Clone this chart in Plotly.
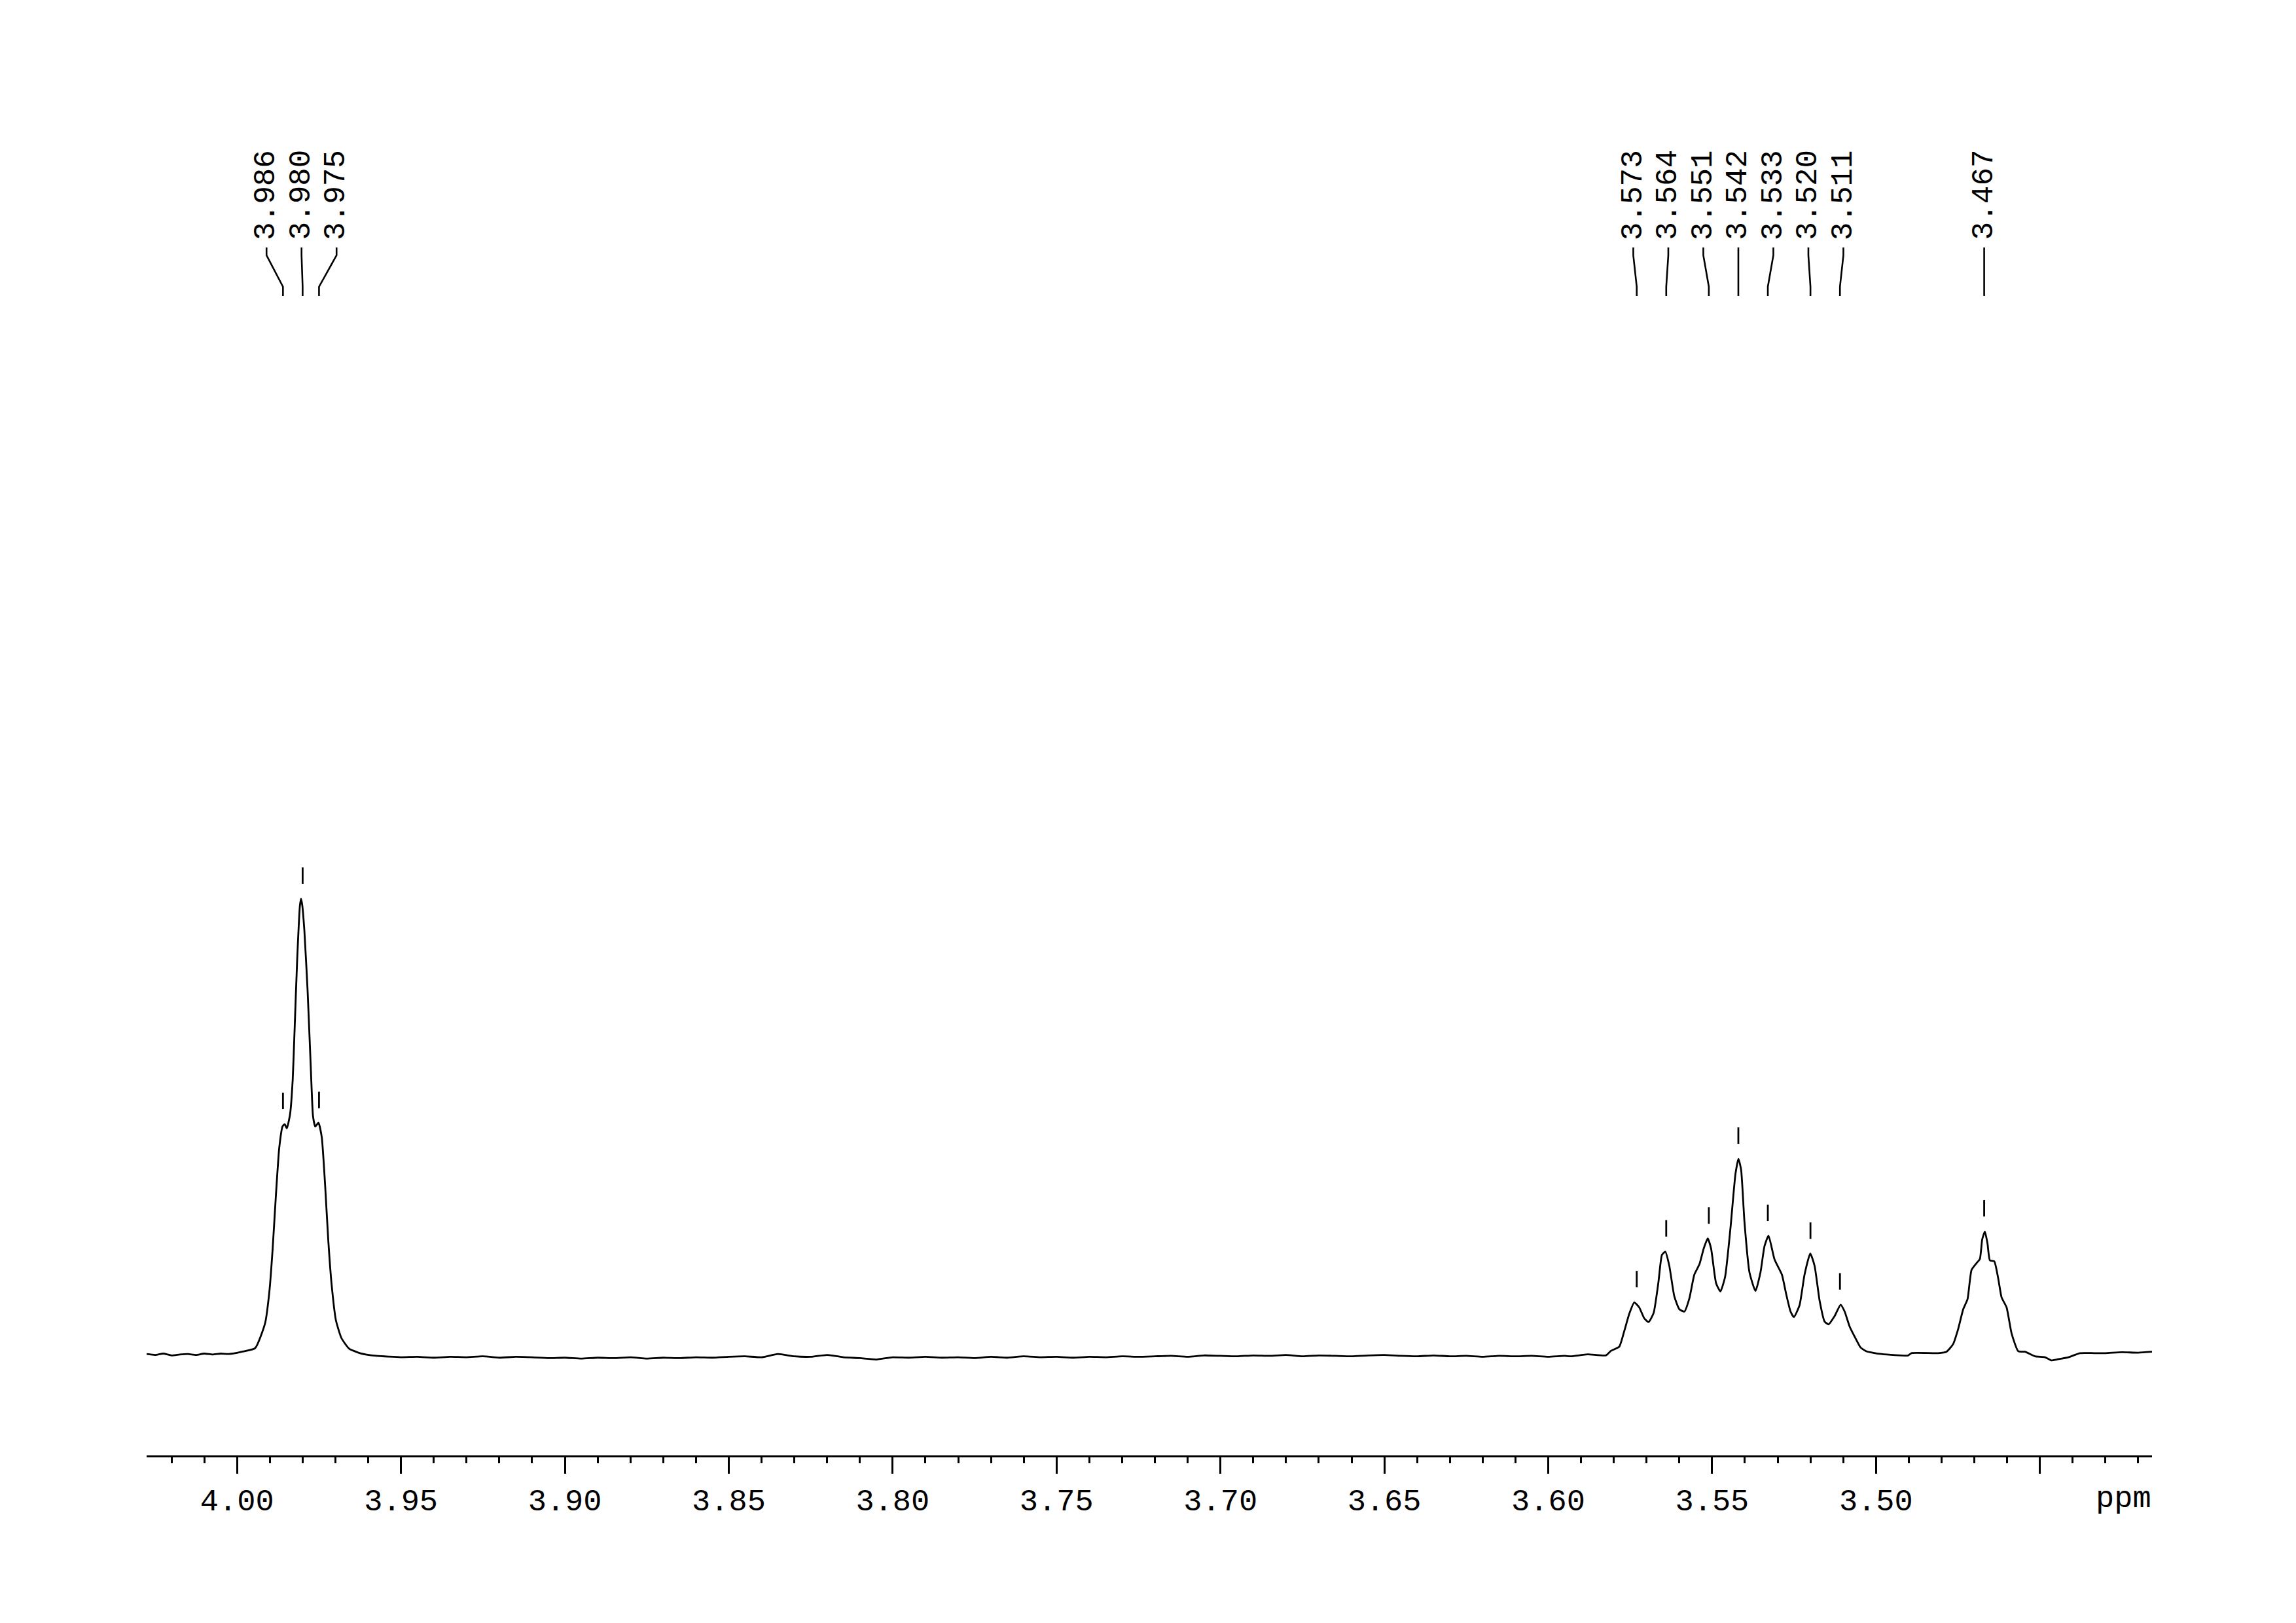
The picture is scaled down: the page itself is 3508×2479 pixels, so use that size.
import plotly.graph_objects as go

# ---------------- data ----------------
# spectrum trace: chemical shift (ppm) and relative intensity
left_ppm = [4.0276, 4.0250, 4.0225, 4.0200, 4.0175, 4.0150, 4.0125, 4.0100, 4.0075, 4.0050,
            4.0025, 3.9985, 3.99447, 3.99147, 3.99014, 3.98914, 3.98814, 3.98714, 3.98614,
            3.98548, 3.98482, 3.98383, 3.98303, 3.98249, 3.98169, 3.98083, 3.9805, 3.98015,
            3.97949, 3.97849, 3.97749, 3.97684, 3.97616, 3.97516, 3.97416, 3.97316, 3.97216,
            3.97117, 3.96985, 3.96817, 3.96585, 3.96252, 3.9575]
left_int = [0.4, 0.2, 0.5, 0.1, 0.3, 0.4, 0.2, 0.5, 0.3, 0.5,
            0.4, 0.9, 1.7, 7.1, 14.1, 23.5, 35.3, 45.5, 50.2,
            50.7, 49.8, 52.9, 60.4, 70.6, 86.3, 98.5, 100.0, 98.8,
            93.3, 80.0, 62.7, 52.5, 50.2, 51.0, 47.8, 37.6, 25.1,
            15.7, 7.8, 3.9, 1.6, 0.6, 0.0]

mid_ppm = [3.9500, 3.9450, 3.9400, 3.9350, 3.9300, 3.9250, 3.9200, 3.9150, 3.9100, 3.9050,
           3.9000, 3.8950, 3.8900, 3.8850, 3.8800, 3.8750, 3.8700, 3.8650, 3.8600, 3.8550,
           3.8500, 3.8450, 3.8400, 3.8350, 3.8300, 3.8250, 3.8200, 3.8150, 3.8100, 3.8050,
           3.8000, 3.7950, 3.7900, 3.7850, 3.7800, 3.7750, 3.7700, 3.7650, 3.7600, 3.7550,
           3.7500, 3.7450, 3.7400, 3.7350, 3.7300, 3.7250, 3.7200, 3.7150, 3.7100, 3.7050,
           3.7000, 3.6950, 3.6900, 3.6850, 3.6800, 3.6750, 3.6700, 3.6650, 3.6600, 3.6550,
           3.6500, 3.6450, 3.6400, 3.6350, 3.6300, 3.6250, 3.6200, 3.6150, 3.6100, 3.6050,
           3.6000, 3.5950]
mid_int = [-0.3, -0.2, -0.4, -0.2, -0.3, -0.1, -0.4, -0.2, -0.3, -0.5,
           -0.4, -0.6, -0.4, -0.5, -0.3, -0.6, -0.4, -0.5, -0.3, -0.4,
           -0.2, -0.1, -0.3, 0.4, -0.1, -0.2, 0.2, -0.3, -0.5, -0.8,
           -0.3, -0.4, -0.2, -0.4, -0.3, -0.5, -0.2, -0.4, -0.1, -0.3,
           -0.2, -0.4, -0.2, -0.3, -0.1, -0.2, -0.1, 0.0, -0.2, 0.1,
           0.0, -0.1, 0.1, 0.0, 0.2, -0.1, 0.1, 0.0, -0.1, 0.1,
           0.2, 0.0, -0.1, 0.1, -0.1, 0.0, -0.2, 0.0, -0.1, 0.0,
           -0.2, 0.0]

right_ppm = [3.59311, 3.58802, 3.58241, 3.58088, 3.57834, 3.57681, 3.57528, 3.57375, 3.57223,
             3.57070, 3.56937, 3.56784, 3.56642, 3.56530, 3.56428, 3.56306, 3.56153, 3.56000,
             3.55847, 3.55694, 3.55542, 3.55389, 3.55256, 3.55134, 3.55032, 3.54879, 3.54747,
             3.54604, 3.54441, 3.54288, 3.54197, 3.54115, 3.54013, 3.53861, 3.53677, 3.53524,
             3.53402, 3.53280, 3.53096, 3.52872, 3.52740, 3.52607, 3.52505, 3.52332, 3.52180,
             3.52006, 3.51874, 3.51721, 3.51568, 3.51446, 3.51263, 3.51079, 3.50957, 3.50804,
             3.50600, 3.50468, 3.50295, 3.49836, 3.49021, 3.48919, 3.48104, 3.47850, 3.47646,
             3.47493, 3.47340, 3.47208, 3.47086, 3.46933, 3.46831, 3.46760, 3.46678, 3.46597,
             3.46526, 3.46393, 3.46271, 3.46169, 3.46016, 3.45863, 3.45660, 3.45456, 3.45150,
             3.44845, 3.44641, 3.44488, 3.44131, 3.43775, 3.43337, 3.4300, 3.4250, 3.4200, 3.4158]
right_int = [-0.1, 0.35, 0.1, 1.1, 2.0, 5.4, 9.2, 11.7, 10.6,
             8.2, 7.4, 9.4, 15.9, 22.1, 22.8, 19.7, 13.0, 10.2,
             9.7, 12.6, 17.8, 20.0, 23.5, 25.7, 23.5, 15.9, 14.1,
             17.3, 27.9, 39.8, 43.1, 40.7, 29.3, 18.3, 14.2, 18.3,
             24.0, 26.3, 21.1, 17.8, 13.5, 9.7, 8.5, 11.1, 17.8,
             22.4, 19.7, 12.1, 7.5, 6.9, 8.7, 11.2, 9.7, 6.4,
             3.5, 1.8, 1.0, 0.4, 0.1, 0.6, 0.6, 0.9, 2.6,
             5.9, 10.2, 12.4, 18.8, 20.3, 21.2, 25.5, 27.2, 24.5,
             20.9, 20.7, 16.9, 12.8, 10.6, 4.9, 1.0, 0.9, -0.1,
             -0.3, -1.0, -0.8, -0.3, 0.6, 0.6, 0.6, 0.8, 0.7, 0.9]

# picked peaks
peak_ppm = [3.986, 3.980, 3.975, 3.573, 3.564, 3.551, 3.542, 3.533, 3.520, 3.511, 3.467]
peak_height = [50.7, 100.0, 50.9, 11.7, 22.8, 25.6, 43.1, 26.2, 22.3, 11.2, 27.2]

# axis ticks
major_ticks = [4.00, 3.95, 3.90, 3.85, 3.80, 3.75, 3.70, 3.65, 3.60, 3.55, 3.50, 3.45]
major_labels = ["4.00", "3.95", "3.90", "3.85", "3.80", "3.75", "3.70", "3.65", "3.60",
                "3.55", "3.50", ""]

# ---------------- layout constants ----------------
X_RANGE = [4.0276, 3.4158]
Y_RANGE = [-21.78, 282.37]
FONT = "Liberation Mono"
PX_PER_PPM = 5008.0
LABEL_SPACING = 53.5 / PX_PER_PPM  # minimum distance between peak labels (ppm)

spec_ppm = left_ppm + mid_ppm + right_ppm
spec_int = left_int + mid_int + right_int

# spread peak labels so they don't overlap
clusters = [[i] for i in range(len(peak_ppm))]


def cluster_positions(c):
    centre = sum(peak_ppm[i] for i in c) / len(c)
    n = len(c)
    return [centre + ((n - 1) / 2 - k) * LABEL_SPACING for k in range(n)]


changed = True
while changed:
    changed = False
    for j in range(len(clusters) - 1):
        a = cluster_positions(clusters[j])
        b = cluster_positions(clusters[j + 1])
        if a[-1] - b[0] < LABEL_SPACING - 1e-9:
            clusters[j] = clusters[j] + clusters[j + 1]
            del clusters[j + 1]
            changed = True
            break

label_x = []
for c in clusters:
    label_x += cluster_positions(c)

fig = go.Figure()
fig.add_trace(go.Scatter(x=spec_ppm, y=spec_int, mode="lines",
                         line=dict(color="black", width=2.8, shape="spline", smoothing=0.5),
                         hoverinfo="skip", showlegend=False))

shapes = []
annotations = []
# label geometry (data y units)
Y_TEXT = 244.0
Y_C0, Y_C1, Y_C2, Y_C3 = 242.55, 240.83, 233.95, 231.95
for p, h, lx in zip(peak_ppm, peak_height, label_x):
    shapes.append(dict(type="line", xref="x", yref="y", x0=p, x1=p, y0=h + 3.3, y1=h + 6.9,
                       line=dict(color="black", width=2.8)))
    shapes.append(dict(type="path", xref="x", yref="y",
                       path=f"M {lx},{Y_C0} L {lx},{Y_C1} L {p},{Y_C2} L {p},{Y_C3}",
                       line=dict(color="black", width=2.6)))
    annotations.append(dict(x=lx, y=Y_TEXT, xref="x", yref="y", text=f"{p:.3f}",
                            textangle=-90, showarrow=False, xanchor="center", yanchor="bottom",
                            font=dict(family=FONT, size=46, color="black"), borderpad=0))

annotations.append(dict(x=1, y=-0.0185, xref="paper", yref="paper", text="ppm", showarrow=False,
                        xanchor="right", yanchor="top",
                        font=dict(family=FONT, size=47, color="black"), borderpad=0))

fig.update_layout(
    width=3492, height=2463,
    margin=dict(l=216, r=212, t=92, b=248, pad=0),
    paper_bgcolor="white", plot_bgcolor="white",
    shapes=shapes, annotations=annotations,
    xaxis=dict(range=X_RANGE, autorange=False, showgrid=False, zeroline=False,
               showline=True, linecolor="black", linewidth=3,
               ticks="outside", ticklen=25, tickwidth=3, tickcolor="black",
               tickmode="array", tickvals=major_ticks, ticktext=major_labels,
               tickfont=dict(family=FONT, size=47, color="black"),
               minor=dict(tickmode="linear", tick0=0, dtick=0.01, ticks="outside",
                          ticklen=9, tickwidth=3, tickcolor="black", showgrid=False)),
    yaxis=dict(range=Y_RANGE, autorange=False, visible=False),
    showlegend=False,
)

fig.write_html("out.html")
